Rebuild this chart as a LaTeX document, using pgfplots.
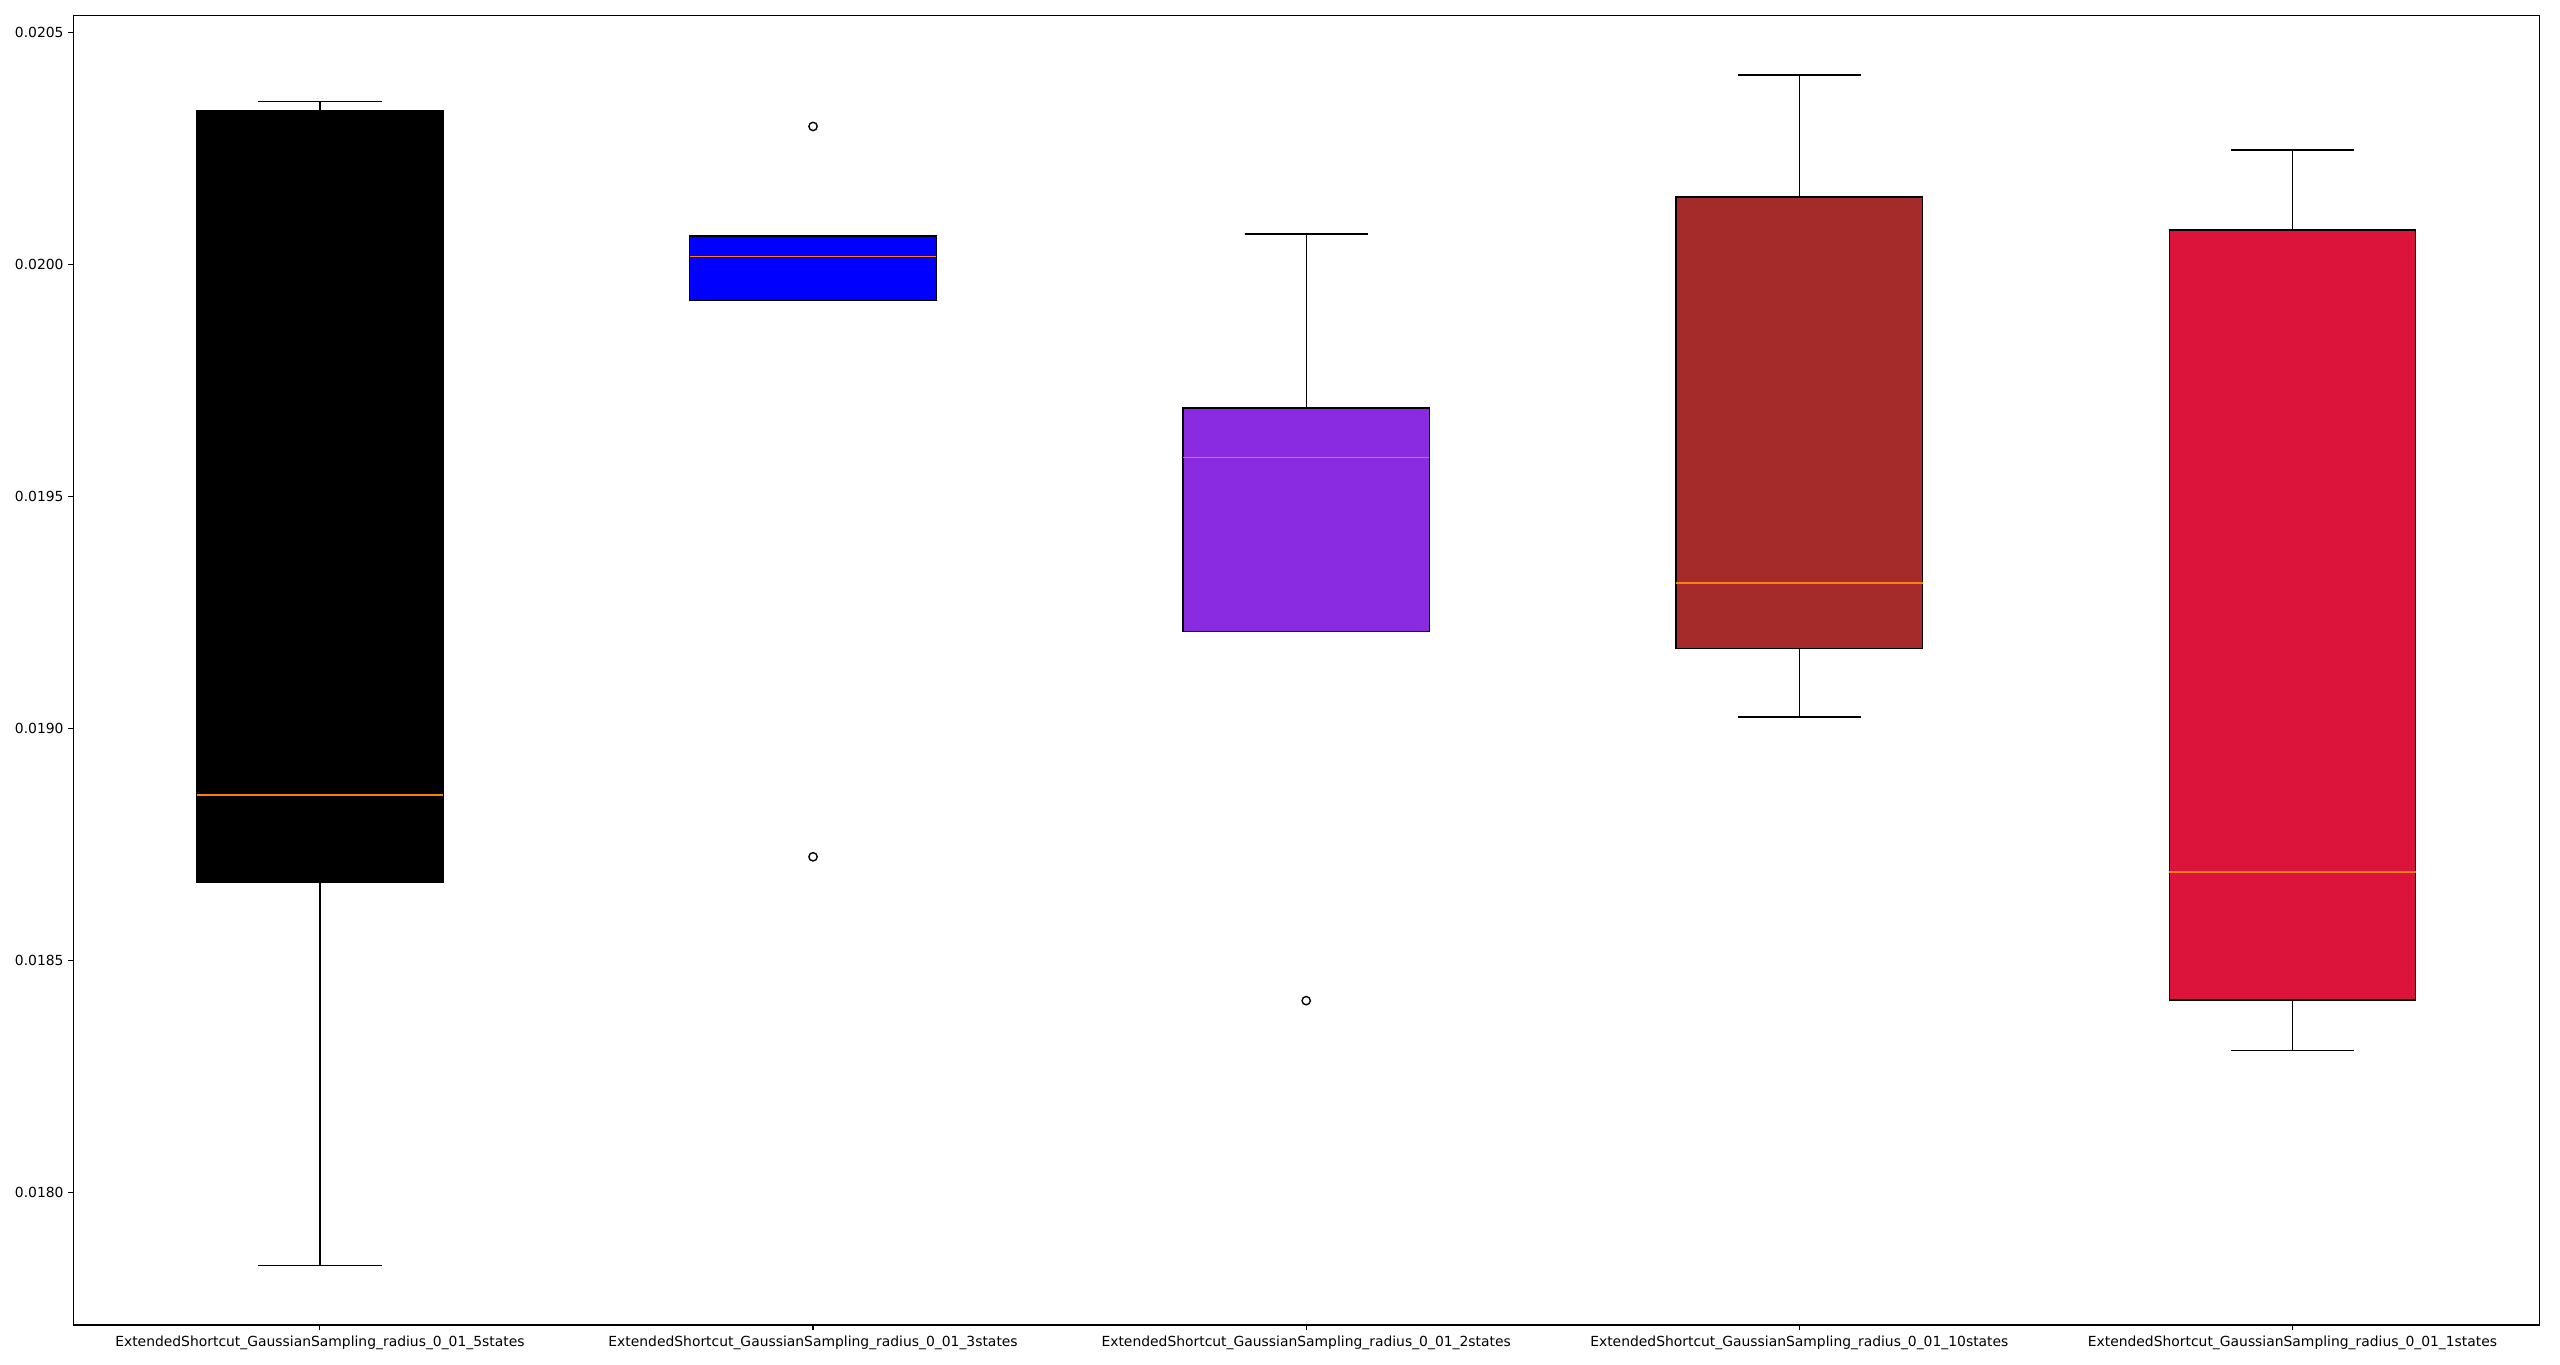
\documentclass[border=0pt]{standalone}
\usepackage{fontspec}
\setmainfont{DejaVu Sans}
\usepackage{pgfplots}
\pgfplotsset{compat=1.18}
\usepgfplotslibrary{statistics}
\definecolor{mplorange}{HTML}{FF7F0E}
\definecolor{blueviolet}{RGB}{138,43,226}
\definecolor{mbrown}{RGB}{165,42,42}
\definecolor{crimson}{RGB}{220,20,60}
\begin{document}
\begin{tikzpicture}
\begin{axis}[
  scale only axis,
  width=1775.3pt, height=943.0pt,
  xmin=0.5, xmax=5.5,
  ymin=0.017714, ymax=0.0205366,
  axis line style={line width=0.8pt},
  tick style={black, line width=0.8pt},
  tick align=outside,
  major tick length=3.5pt,
  xtick pos=bottom, ytick pos=left,
  xtick={1,2,3,4,5},
  xticklabels={ExtendedShortcut\_GaussianSampling\_radius\_0\_01\_5states,
               ExtendedShortcut\_GaussianSampling\_radius\_0\_01\_3states,
               ExtendedShortcut\_GaussianSampling\_radius\_0\_01\_2states,
               ExtendedShortcut\_GaussianSampling\_radius\_0\_01\_10states,
               ExtendedShortcut\_GaussianSampling\_radius\_0\_01\_1states},
  ytick={0.018,0.0185,0.019,0.0195,0.02,0.0205},
  scaled y ticks=false,
  yticklabel style={/pgf/number format/.cd, fixed, fixed zerofill, precision=4, assume math mode=true},
  ticklabel style={font=\fontsize{10}{12}\selectfont},
  xticklabel style={yshift=-1pt},
  boxplot/draw direction=y,
  boxplot/every median/.style={draw=mplorange, line width=1pt},
  boxplot/every whisker/.style={draw=black, line width=1pt},
  boxplot/box extend=0.5,
  boxplot/whisker extend=0.25,
]
\addplot[draw=black, fill=black, line width=1pt, mark=o, mark size=3pt,
  mark options={draw=black, fill=none, solid, line width=1pt},
  boxplot prepared={draw position=1, lower whisker=0.017842, lower quartile=0.018669,
    median=0.018856, upper quartile=0.020331, upper whisker=0.020351}] coordinates {};
\addplot[draw=black, fill=blue, line width=1pt, mark=o, mark size=3pt,
  mark options={draw=black, fill=none, solid, line width=1pt},
  boxplot prepared={draw position=2, lower whisker=0.019922, lower quartile=0.019922,
    median=0.020017, upper quartile=0.020061, upper whisker=0.020061}]
  coordinates {(0,0.020297) (0,0.018723)};
\addplot[draw=black, fill=blueviolet, line width=1pt, mark=o, mark size=3pt,
  mark options={draw=black, fill=none, solid, line width=1pt},
  boxplot prepared={draw position=3, lower whisker=0.019209, lower quartile=0.019209,
    median=0.019584, upper quartile=0.019690, upper whisker=0.020065}]
  coordinates {(0,0.018413)};
\addplot[draw=black, fill=mbrown, line width=1pt, mark=o, mark size=3pt,
  mark options={draw=black, fill=none, solid, line width=1pt},
  boxplot prepared={draw position=4, lower whisker=0.019024, lower quartile=0.019172,
    median=0.019313, upper quartile=0.020145, upper whisker=0.020408}] coordinates {};
\addplot[draw=black, fill=crimson, line width=1pt, mark=o, mark size=3pt,
  mark options={draw=black, fill=none, solid, line width=1pt},
  boxplot prepared={draw position=5, lower whisker=0.018305, lower quartile=0.018414,
    median=0.018690, upper quartile=0.020074, upper whisker=0.020246}] coordinates {};
\end{axis}
\path ([xshift=-52.8pt, yshift=-28.1pt]current axis.south west) rectangle ([xshift=15.1pt, yshift=11.0pt]current axis.north east);
\end{tikzpicture}
\end{document}
